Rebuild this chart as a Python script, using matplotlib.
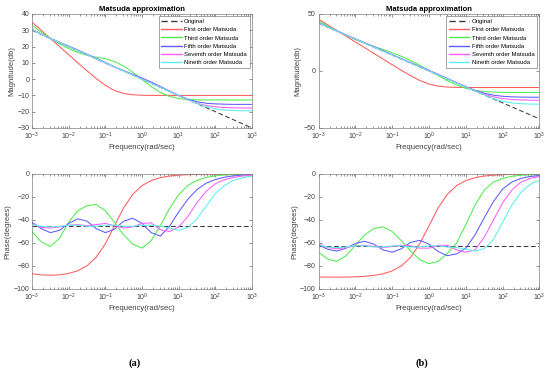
import numpy as np
import matplotlib
matplotlib.use('Agg')
import matplotlib.pyplot as plt

plt.rcParams['font.family'] = ['Liberation Sans', 'DejaVu Sans']

# log10 of frequency (rad/sec) where the curves were read
logw = [-3, -2.75, -2.5, -2.25, -2, -1.75, -1.5, -1.25, -1, -0.75, -0.5, -0.25, 0,
        0.25, 0.5, 0.75, 1, 1.25, 1.5, 1.75, 2, 2.25, 2.5, 2.75, 3]

labels = ['Original', 'First order Matsuda', 'Third order Matsuda',
          'Fifth order Matsuda', 'Seventh order Matsuda', 'Nineth order Matsuda']

orig_w = [1e-3, 1e3]
orig_mag_a = [30, -30]
orig_ph_a = [-45, -45]
orig_mag_b = [42, -42]
orig_ph_b = [-63, -63]

# (a) magnitude, dB
mag_a_first = [35.0, 30.0, 25.0, 20.0, 15.0, 10.0, 5.1, 0.4, -3.8, -7.0, -8.8, -9.6, -9.9,
               -10.0, -10.0, -10.0, -10.0, -10.0, -10.0, -10.0, -10.0, -10.0, -10.0, -10.0, -10.0]
mag_a_third = [33.0, 28.9, 25.1, 21.6, 18.8, 16.4, 14.6, 13.4, 12.5, 10.8, 8.0, 4.2, -0.2,
               -4.6, -8.2, -10.6, -11.9, -12.5, -12.7, -12.8, -12.8, -12.8, -12.8, -12.8, -12.8]
mag_a_fifth = [30.6, 27.6, 25.0, 22.6, 20.3, 17.8, 15.3, 12.8, 10.2, 7.5, 5.2, 2.9, 0.7,
               -1.8, -4.5, -7.3, -10.0, -12.3, -13.9, -14.8, -15.2, -15.4, -15.5, -15.5, -15.5]
mag_a_seventh = [30.5, 27.7, 25.0, 22.4, 19.9, 17.5, 15.1, 12.5, 9.9, 7.4, 5.0, 2.6, 0.2,
                 -2.3, -4.9, -7.5, -10.2, -12.7, -14.8, -16.2, -17.0, -17.4, -17.6, -17.7, -17.7]
mag_a_ninth = [30.3, 27.6, 25.0, 22.5, 20.0, 17.5, 15.0, 12.5, 10.0, 7.5, 5.0, 2.5, 0.0,
               -2.5, -5.0, -7.5, -10.0, -12.5, -14.9, -16.9, -18.3, -19.0, -19.3, -19.4, -19.5]

# (a) phase, degrees
ph_a_first = [-86.7, -87.8, -88.0, -87.7, -86.5, -84.1, -79.8, -72.4, -60.7, -45.0, -29.4, -17.6, -10.1,
              -5.7, -3.2, -1.8, -1.0, -0.6, -0.3, -0.2, -0.1, 0, 0, 0, 0]
ph_a_third = [-50, -59, -63, -56, -42, -32, -27.5, -26.5, -32, -42, -53, -61, -64.5,
              -58, -45, -30, -18, -10, -5.5, -3, -1.6, -0.9, -0.5, -0.3, -0.2]
ph_a_fifth = [-42, -47.5, -51, -49, -43, -39, -41, -47.5, -51, -48, -41, -38.5, -43,
              -51, -54, -45.5, -33, -22, -13.5, -8, -4.8, -2.8, -1.6, -0.9, -0.5]
ph_a_seventh = [-43, -46.5, -47, -46, -44.5, -44, -45, -44, -43, -45, -47, -46, -43,
                -42.5, -48.5, -50, -46, -37, -25, -15, -8.5, -5, -2.9, -1.7, -1.0]
ph_a_ninth = [-44, -45.5, -46, -45.5, -44.5, -44.5, -45.5, -45.5, -44.5, -44.5, -45.5, -45.5, -44.5,
              -44.5, -45.5, -47, -49, -46.5, -39, -28, -17, -10, -5.5, -3.2, -1.9]

# (b) magnitude, dB
mag_b_first = [45.5, 40.5, 35.5, 30.5, 25.5, 20.5, 15.5, 10.5, 5.5, 0.6, -4.1, -8.3, -11.5,
               -13.3, -14.1, -14.4, -14.5, -14.5, -14.5, -14.5, -14.5, -14.5, -14.5, -14.5, -14.5]
mag_b_third = [44.0, 39.5, 35.3, 31.3, 27.5, 24.3, 21.5, 18.9, 16.0, 12.9, 9.2, 5.0, 0.5,
               -4.0, -8.5, -12.3, -15.2, -17.0, -18.0, -18.5, -18.7, -18.8, -18.8, -18.8, -18.8]
mag_b_fifth = [42.5, 38.7, 35.2, 31.6, 28.2, 24.8, 21.4, 17.9, 14.3, 10.7, 7.3, 3.9, 0.5,
               -3.0, -6.6, -10.3, -13.7, -17.0, -19.5, -21.2, -22.2, -22.7, -22.9, -23.0, -23.0]
mag_b_seventh = [42.3, 38.7, 35.1, 31.6, 28.1, 24.6, 21.1, 17.6, 14.2, 10.7, 7.2, 3.7, 0.2,
                 -3.3, -6.8, -10.3, -13.9, -17.4, -20.4, -22.7, -24.2, -25.0, -25.4, -25.6, -25.7]
mag_b_ninth = [42.2, 38.6, 35.0, 31.5, 28.0, 24.5, 21.0, 17.5, 14.0, 10.5, 7.0, 3.5, 0.0,
               -3.5, -7.0, -10.5, -14.0, -17.5, -21.0, -24.3, -26.6, -28.0, -28.7, -29.0, -29.1]

# (b) phase, degrees
ph_b_first = [-89.6, -89.6, -89.7, -89.6, -89.4, -89.0, -88.2, -86.8, -84.3, -79.9, -72.5, -60.6, -45.0,
              -29.4, -17.6, -10.1, -5.7, -3.2, -1.8, -1.0, -0.6, -0.3, -0.2, -0.1, -0.1]
ph_b_third = [-68, -74, -76, -71, -62, -53, -47.5, -46, -50, -58, -67, -74.5, -78,
              -76, -69, -60, -44, -27, -14, -7, -3.8, -2, -1.1, -0.6, -0.3]
ph_b_fifth = [-61.5, -65.5, -67, -64.5, -60.5, -58.5, -61, -66, -68, -65, -59.5, -57.7, -61,
              -67.5, -71, -69.5, -64.5, -53, -38, -24, -13, -7, -3.8, -2.2, -1.3]
ph_b_seventh = [-61, -64, -65, -64, -62.5, -62, -63, -64, -63, -62, -62.5, -64.5, -64.5,
                -62, -62, -66, -68, -66, -55, -40, -25, -14, -7, -3.8, -2.2]
ph_b_ninth = [-62, -63.5, -64, -63.5, -62.5, -62.5, -63.5, -63.5, -62.5, -62.5, -63.5, -63.5, -62.5,
              -62.5, -63.5, -64, -65.5, -67, -65, -57, -42, -27, -16, -9, -5.5]

w = 10.0 ** np.array(logw)
colors = ['#3c3c3c', '#ff5c5c', '#4cee4c', '#5c5cff', '#ff5cff', '#5ceeee']
txt_col = '#404040'


def draw(ax, orig, curves, ylim, yticks, ylabel, top=False):
    ax.semilogx(orig_w, orig, color=colors[0], ls='--', lw=0.75, dashes=(4.5, 2.5), label=labels[0])
    for c, col, lab in zip(curves, colors[1:], labels[1:]):
        ax.semilogx(w, c, color=col, lw=0.75, label=lab)
    ax.set_xlim(1e-3, 1e3)
    ax.set_ylim(ylim)
    ax.set_yticks(yticks)
    ax.set_xticks([1e-3, 1e-2, 1e-1, 1e0, 1e1, 1e2, 1e3])
    ax.tick_params(which='both', direction='in', top=True, right=True,
                   labelsize=5, colors=txt_col, width=0.4, pad=2)
    ax.tick_params(which='major', length=2.2)
    ax.tick_params(which='minor', length=1.2)
    for s in ax.spines.values():
        s.set_color('#808080')
        s.set_linewidth(0.5)
    ax.set_xlabel('Frequency(rad/sec)', fontsize=5.5, color=txt_col, labelpad=1.5)
    ax.set_ylabel(ylabel, fontsize=5.5, color=txt_col, labelpad=1.5)
    if top:
        ax.set_title('Matsuda approximation', fontsize=5.5, fontweight='bold', pad=2.5)
        leg = ax.legend(loc='upper right', fontsize=4.3, handlelength=3.4, labelspacing=0.5,
                        borderpad=0.45, handletextpad=0.4, frameon=True, fancybox=False,
                        borderaxespad=0.4)
        leg.get_frame().set_edgecolor('#606060')
        leg.get_frame().set_linewidth(0.5)
        for line in leg.get_lines():
            line.set_linewidth(1.0)


fig = plt.figure(figsize=(5.5, 3.74), dpi=100)

ax1 = fig.add_axes([0.0582, 0.6578, 0.4, 0.3048])
ax2 = fig.add_axes([0.0582, 0.2273, 0.4, 0.3075])
ax3 = fig.add_axes([0.5791, 0.6578, 0.4018, 0.3048])
ax4 = fig.add_axes([0.5791, 0.2273, 0.4018, 0.3075])

draw(ax1, orig_mag_a, [mag_a_first, mag_a_third, mag_a_fifth, mag_a_seventh, mag_a_ninth],
     (-30, 40), range(-30, 41, 10), 'Magnitude(db)', top=True)
draw(ax2, orig_ph_a, [ph_a_first, ph_a_third, ph_a_fifth, ph_a_seventh, ph_a_ninth],
     (-100, 0), range(-100, 1, 20), 'Phase(degrees)')
draw(ax3, orig_mag_b, [mag_b_first, mag_b_third, mag_b_fifth, mag_b_seventh, mag_b_ninth],
     (-50, 50), [-50, 0, 50], 'Magnitude(db)', top=True)
draw(ax4, orig_ph_b, [ph_b_first, ph_b_third, ph_b_fifth, ph_b_seventh, ph_b_ninth],
     (-100, 0), range(-100, 1, 20), 'Phase(degrees)')

fig.text(0.245, 0.029, '(a)', ha='center', va='center', fontsize=7.5, fontweight='bold',
         family='Liberation Serif')
fig.text(0.767, 0.029, '(b)', ha='center', va='center', fontsize=7.5, fontweight='bold',
         family='Liberation Serif')

fig.savefig('out.png', dpi=100)
